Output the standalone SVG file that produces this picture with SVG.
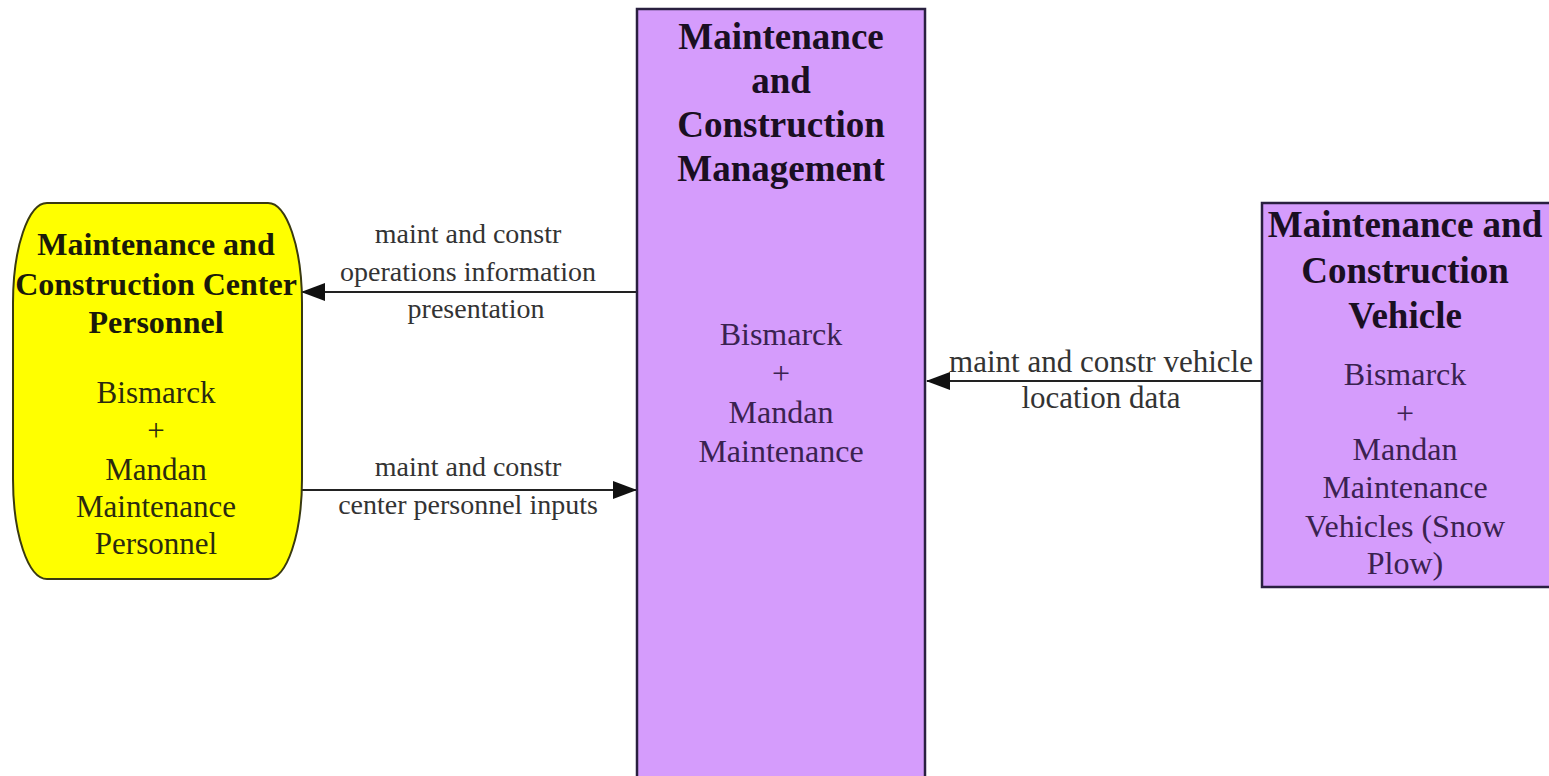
<svg xmlns="http://www.w3.org/2000/svg" width="1549" height="776" viewBox="0 0 1549 776">
<style>
.purple{fill:#d59cfc;stroke:#2a2040;stroke-width:2.5}
.yellow{fill:#ffff00;stroke:#3a3a10;stroke-width:2}
.t{font-family:"Liberation Serif","Times New Roman",serif;text-anchor:middle}
.title{font-size:37px;font-weight:bold;fill:#1a0f22}
.ltitle{font-size:32px;font-weight:bold;fill:#1a1a0a}
.body{font-size:32px;fill:#3a2250}
.lbody{font-size:31px;fill:#2a2a10}
.lab{font-size:28px;fill:#333}
.rlab{font-size:31px;fill:#333}
.conn{stroke:#222;stroke-width:2;fill:none}
</style>
<defs>
<marker id="ahb" markerWidth="24" markerHeight="20" refX="23" refY="10" orient="auto" markerUnits="userSpaceOnUse" viewBox="0 0 24 20">
<path d="M0,1 L24,10 L0,19 z" fill="#111"/>
</marker>
</defs>
<rect width="1549" height="776" fill="#ffffff"/>
<g id="connectors">
<line class="conn" x1="637" y1="292" x2="302" y2="292" marker-end="url(#ahb)"/>
<line class="conn" x1="301" y1="490" x2="636" y2="490" marker-end="url(#ahb)"/>
<line class="conn" x1="1261" y1="381" x2="927" y2="381" marker-end="url(#ahb)"/>
</g>
<g id="node-center">
<rect class="purple" x="637" y="9" width="288" height="770"/>
<text class="t title" x="781" y="49">Maintenance</text>
<text class="t title" x="781" y="93">and</text>
<text class="t title" x="781" y="137">Construction</text>
<text class="t title" x="781" y="181">Management</text>
<text class="t body" x="781" y="345">Bismarck</text>
<text class="t body" x="781" y="384">+</text>
<text class="t body" x="781" y="423">Mandan</text>
<text class="t body" x="781" y="462">Maintenance</text>
</g>
<g id="node-personnel">
<rect class="yellow" x="13" y="203" width="289" height="376" rx="34" ry="100"/>
<text class="t ltitle" x="156" y="255">Maintenance and</text>
<text class="t ltitle" x="156" y="295">Construction Center</text>
<text class="t ltitle" x="156" y="333">Personnel</text>
<text class="t lbody" x="156" y="403">Bismarck</text>
<text class="t lbody" x="156" y="441">+</text>
<text class="t lbody" x="156" y="480">Mandan</text>
<text class="t lbody" x="156" y="517">Maintenance</text>
<text class="t lbody" x="156" y="554">Personnel</text>
</g>
<g id="node-vehicle">
<rect class="purple" x="1262" y="203" width="300" height="384"/>
<text class="t title" x="1405" y="237">Maintenance and</text>
<text class="t title" x="1405" y="283">Construction</text>
<text class="t title" x="1405" y="328">Vehicle</text>
<text class="t body" x="1405" y="385">Bismarck</text>
<text class="t body" x="1405" y="424">+</text>
<text class="t body" x="1405" y="460">Mandan</text>
<text class="t body" x="1405" y="498">Maintenance</text>
<text class="t body" x="1405" y="537">Vehicles (Snow</text>
<text class="t body" x="1405" y="574">Plow)</text>
</g>
<g id="labels">
<text class="t lab" x="468" y="243">maint and constr</text>
<text class="t lab" x="468" y="281">operations information</text>
<text class="t lab" x="476" y="318">presentation</text>
<text class="t lab" x="468" y="476">maint and constr</text>
<text class="t lab" x="468" y="514">center personnel inputs</text>
<text class="t rlab" x="1101" y="372">maint and constr vehicle</text>
<text class="t rlab" x="1101" y="408">location data</text>
</g>
</svg>
